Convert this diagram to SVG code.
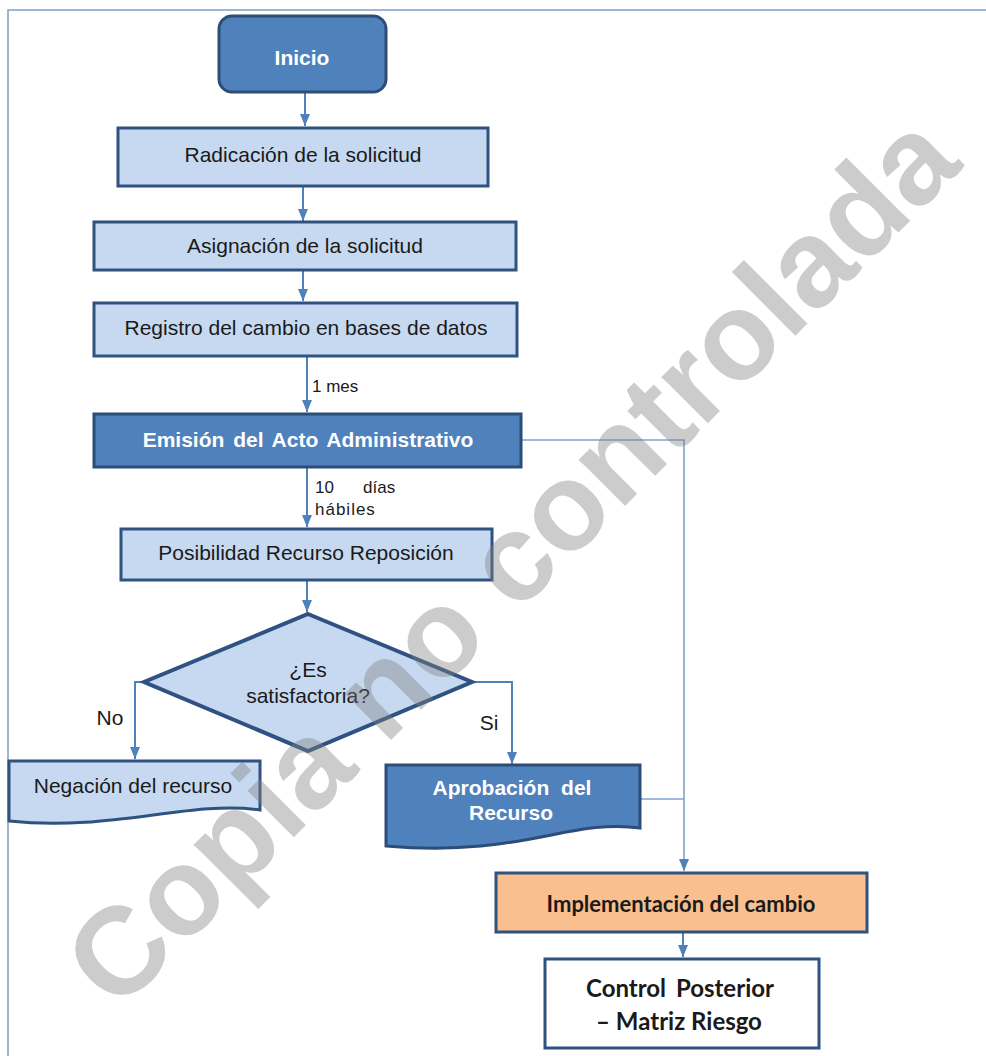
<svg xmlns="http://www.w3.org/2000/svg" width="986" height="1056" viewBox="0 0 986 1056">
<style>
.t{font-family:"Liberation Sans",Arial,sans-serif;font-size:21px;fill:#1a1a1a;text-anchor:middle}
.tb{font-family:"Liberation Sans",Arial,sans-serif;font-weight:bold;font-size:21px;fill:#ffffff;text-anchor:middle}
.tl{font-family:"Liberation Sans",Arial,sans-serif;font-size:17px;fill:#1a1a1a}
.th{font-family:Lato,"Open Sans",sans-serif;font-weight:bold;fill:#1a1a1a;text-anchor:middle}
.light{fill:#c6d9f0;stroke:#2f5282;stroke-width:3}
.dark{fill:#4f81bd;stroke:#2c4d76;stroke-width:3}
.conn{fill:none;stroke:#4f81bd;stroke-width:2}
.thin{fill:none;stroke:#7ea3d0;stroke-width:1.6}
</style>
<defs>
<marker id="ah" viewBox="0 0 12 10" refX="12" refY="5" markerWidth="12" markerHeight="10" markerUnits="userSpaceOnUse" orient="auto">
<path d="M0,0 L12,5 L0,10 Z" fill="#4f81bd"/>
</marker>
</defs>
<rect width="986" height="1056" fill="#ffffff"/>
<g id="frame">
<path d="M8,1056 V10 H986" fill="none" stroke="#7f9fc6" stroke-width="1.5"/>
</g>
<g id="connectors">
<path class="conn" d="M305,92 V126" marker-end="url(#ah)"/>
<path class="conn" d="M303,187 V221" marker-end="url(#ah)"/>
<path class="conn" d="M303,270 V301" marker-end="url(#ah)"/>
<path class="conn" d="M307,357 V412" marker-end="url(#ah)"/>
<path class="conn" d="M307,468 V527" marker-end="url(#ah)"/>
<path class="conn" d="M307,580 V612" marker-end="url(#ah)"/>
<path class="conn" d="M145,682 H135 V759" marker-end="url(#ah)"/>
<path class="conn" d="M471,682 H512 V764" marker-end="url(#ah)"/>
<path class="thin" d="M522,440 H684 V871" marker-end="url(#ah)"/>
<path class="thin" d="M640,799 H684"/>
<path class="conn" d="M683,932 V957" marker-end="url(#ah)"/>
<text class="tl" x="312" y="392">1 mes</text>
<text class="tl" x="315" y="493">10</text>
<text class="tl" x="363" y="493">días</text>
<text class="tl" x="315" y="515" letter-spacing="1">hábiles</text>
<text class="t" x="110" y="725">No</text>
<text class="t" x="489" y="730">Si</text>
</g>
<g id="inicio">
<rect class="dark" x="219" y="16" width="167" height="76" rx="13"/>
<text class="tb" x="302" y="65" font-size="25">Inicio</text>
</g>
<g id="radicacion">
<rect class="light" x="118" y="128" width="370" height="58"/>
<text class="t" x="303" y="162">Radicación de la solicitud</text>
</g>
<g id="asignacion">
<rect class="light" x="94" y="222" width="422" height="48"/>
<text class="t" x="305" y="253">Asignación de la solicitud</text>
</g>
<g id="registro">
<rect class="light" x="94" y="303" width="423" height="53"/>
<text class="t" x="306" y="335">Registro del cambio en bases de datos</text>
</g>
<g id="emision">
<rect class="dark" x="94" y="414" width="427" height="53"/>
<text class="tb" x="308" y="447" font-size="20" word-spacing="3">Emisión del Acto Administrativo</text>
</g>
<g id="posibilidad">
<rect class="light" x="121" y="529" width="371" height="51"/>
<text class="t" x="306" y="560">Posibilidad Recurso Reposición</text>
</g>
<g id="decision">
<path d="M308,614 L472,682 L308,751 L144,682 Z" fill="#c6d9f0" stroke="#2f5282" stroke-width="4" stroke-linejoin="miter"/>
<text class="t" x="308" y="677">¿Es</text>
<text class="t" x="308" y="703">satisfactoria?</text>
</g>
<g id="negacion">
<path class="light" d="M9,761 H260 V810 C190,800 110,832 9,821 Z"/>
<text class="t" x="133" y="793">Negación del recurso</text>
</g>
<g id="aprobacion">
<path class="dark" d="M386,765 H640 V828 C570,818 520,858 386,846 Z"/>
<text class="tb" x="512" y="795" font-size="20" word-spacing="6">Aprobación del</text>
<text class="tb" x="511" y="820">Recurso</text>
</g>
<g id="implementacion">
<rect x="496" y="873" width="371" height="59" fill="#f9bf8f" stroke="#2f5282" stroke-width="3"/>
<text class="th" x="681" y="912" font-size="22">Implementación del cambio</text>
</g>
<g id="control">
<rect x="545" y="959" width="274" height="89" fill="#ffffff" stroke="#2f5282" stroke-width="3"/>
<text class="th" x="680" y="997" font-size="24" word-spacing="4">Control Posterior</text>
<text class="th" x="679" y="1030" font-size="24">– Matriz Riesgo</text>
</g>
<g id="watermark">
<text x="541" y="590" transform="rotate(-45 541 590)" font-family="'Liberation Sans',Arial,sans-serif" font-weight="bold" font-size="124" fill="#808080" fill-opacity="0.4" text-anchor="middle">Copia no controlada</text>
</g>
</svg>
